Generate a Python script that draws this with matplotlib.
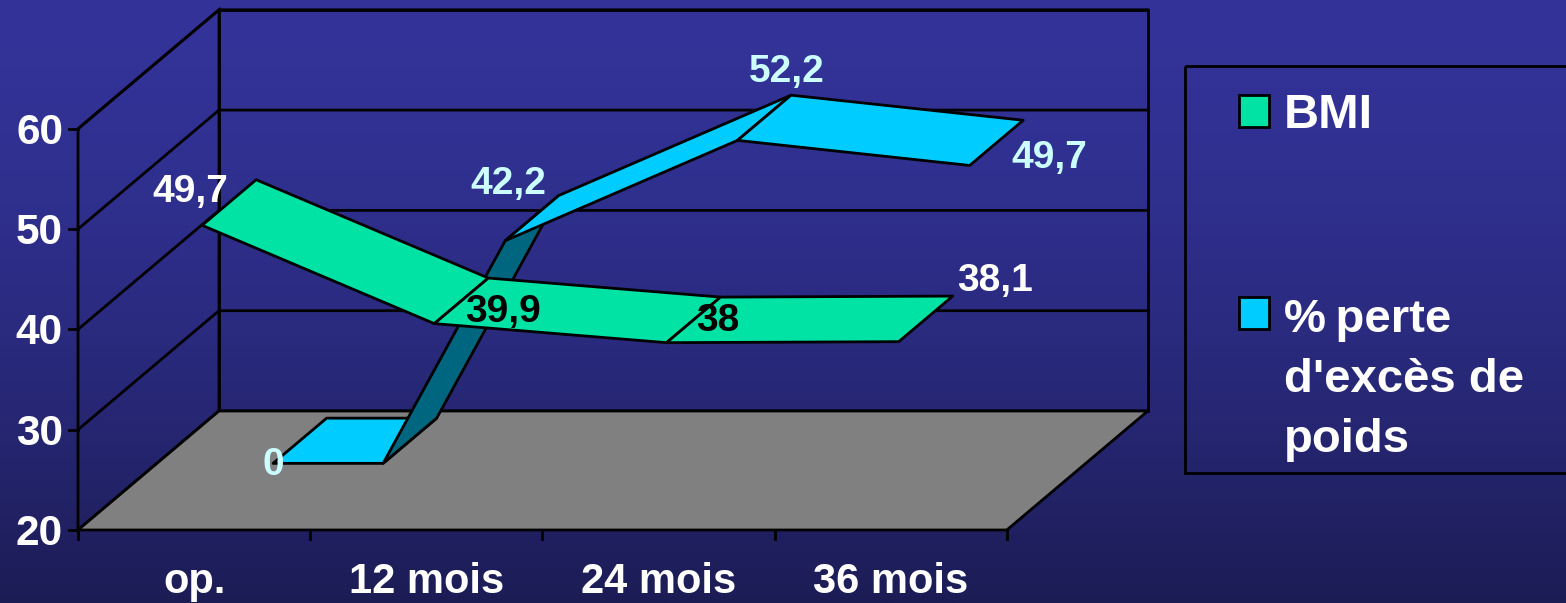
"""Oblique ribbon chart: BMI and excess weight loss after surgery."""

import matplotlib.pyplot as plt
import numpy as np
from matplotlib.patches import Polygon, Rectangle

categories = ["op.", "12 mois", "24 mois", "36 mois"]
bmi_values = [49.7, 39.9, 38.0, 38.1]
bmi_labels = ["49,7", "39,9", "38", "38,1"]
loss_values = [0.0, 42.2, 52.2, 49.7]
loss_labels = ["0", "42,2", "52,2", "49,7"]
y_ticks = [20, 30, 40, 50, 60]

Y_MIN, Y_MAX = 20, 60
X0, Y0 = 78, 530  # front left corner of the floor, in pixels
CAT_W = 232.2
Y_SCALE = 10.03
DEPTH_X, DEPTH_Y = 141, -119

GREEN = "#00e3a5"
BLUE = "#00ccff"
DARK_BLUE = "#006680"
GREY = "#808080"
PALE = "#ccffff"
LW = 2.0


def project(cat, value, depth):
    x = X0 + CAT_W * (cat + 0.5) + DEPTH_X * depth
    y = Y0 - Y_SCALE * (value - Y_MIN) + DEPTH_Y * depth
    return x, y


def corner(cat_edge, value, depth):
    return project(cat_edge - 0.5, value, depth)


def clipped_segment(i, v0, v1):
    """Clip one segment to the axis range, as the floor cuts the ribbon."""
    pieces = []
    if v0 < Y_MIN <= v1:
        t = (Y_MIN - v0) / (v1 - v0)
        pieces.append((i, Y_MIN, i + t, Y_MIN))
        pieces.append((i + t, Y_MIN, i + 1, v1))
    else:
        pieces.append((i, v0, i + 1, v1))
    return pieces


def draw_ribbon(ax, values, d_front, d_back, color, dark):
    for i in range(len(values) - 1):
        for c0, v0, c1, v1 in clipped_segment(i, values[i], values[i + 1]):
            p0 = project(c0, v0, d_front)
            p1 = project(c1, v1, d_front)
            p2 = project(c1, v1, d_back)
            p3 = project(c0, v0, d_back)
            cross = (p1[0] - p0[0]) * (p3[1] - p0[1]) - (p1[1] - p0[1]) * (p3[0] - p0[0])
            face = dark if cross > 0 else color
            ax.add_patch(
                Polygon([p0, p1, p2, p3], closed=True, facecolor=face, edgecolor="black",
                        linewidth=LW, joinstyle="round", zorder=4)
            )


fig = plt.figure(figsize=(15.66, 6.03), dpi=100)
ax = fig.add_axes([0, 0, 1, 1])
ax.set_xlim(0, 1566)
ax.set_ylim(603, 0)
ax.axis("off")
plt.rcParams["font.family"] = ["Liberation Sans", "DejaVu Sans"]

# background gradient
top = np.array([0x33, 0x33, 0x99]) / 255
bottom = np.array([0x1c, 0x1c, 0x55]) / 255
t = np.linspace(0, 1, 256)[:, None, None] ** 1.6
ax.imshow(top + (bottom - top) * t, extent=(0, 1566, 603, 0), aspect="auto", zorder=0)

n = len(categories)
fl = corner(0, Y_MIN, 0)
fr = corner(n, Y_MIN, 0)
bl = corner(0, Y_MIN, 1)
br = corner(n, Y_MIN, 1)
tl_f = corner(0, Y_MAX, 0)
tl_b = corner(0, Y_MAX, 1)
tr_b = corner(n, Y_MAX, 1)

# back wall, side wall, floor
ax.add_patch(Polygon([bl, br, tr_b, tl_b], closed=True, fill=False, edgecolor="black", linewidth=LW, zorder=1))
ax.add_patch(Polygon([fl, bl, tl_b, tl_f], closed=True, fill=False, edgecolor="black", linewidth=LW, zorder=1))

for v in y_ticks:
    a = corner(0, v, 0)
    b = corner(0, v, 1)
    c = corner(n, v, 1)
    ax.plot([a[0], b[0], c[0]], [a[1], b[1], c[1]], color="black", lw=LW, solid_joinstyle="miter", zorder=1)
    ax.plot([a[0] - 9, a[0]], [a[1], a[1]], color="black", lw=LW, zorder=1)
    ax.text(a[0] - 15, a[1] + 4, str(v), ha="right", va="center",
            color="white", fontsize=30.5, fontweight="bold", zorder=6)

ax.add_patch(Polygon([fl, fr, br, bl], closed=True, facecolor=GREY, edgecolor="black", linewidth=LW, zorder=2))

for i in range(n + 1):
    a = corner(i, Y_MIN, 0)
    ax.plot([a[0], a[0]], [a[1], a[1] + 9], color="black", lw=LW, zorder=1)

for i, name in enumerate(categories):
    x, _ = project(i, Y_MIN, 0)
    ax.text(x, 582, name, ha="center", va="center", color="white", fontsize=30, fontweight="bold", zorder=6)

draw_ribbon(ax, loss_values, 0.56, 0.94, BLUE, DARK_BLUE)
draw_ribbon(ax, bmi_values, 0.057, 0.44, GREEN, GREEN)

# data labels, placed relative to the ribbon points
bmi_offsets = [(-12, -33), (69, -12), (51, -22), (96, -61)]
bmi_colors = ["white", "black", "black", "white"]
for i, (v, txt) in enumerate(zip(bmi_values, bmi_labels)):
    x, y = project(i, v, 0.057)
    dx, dy = bmi_offsets[i]
    ax.text(x + dx, y + dy, txt, ha="center", va="center", color=bmi_colors[i],
            fontsize=28, fontweight="bold", zorder=6)

loss_offsets = [(0, 2), (3, -57), (49, -68), (80, -7)]
for i, (v, txt) in enumerate(zip(loss_values, loss_labels)):
    x, y = project(i, max(v, Y_MIN), 0.56)
    dx, dy = loss_offsets[i]
    ax.text(x + dx, y + dy, txt, ha="center", va="center", color=PALE,
            fontsize=28, fontweight="bold", zorder=6)

# legend box runs off the right edge
ax.add_patch(Rectangle((1185, 66), 420, 407, fill=False, edgecolor="black", linewidth=LW, clip_on=True))
ax.add_patch(Rectangle((1239, 95), 30, 32, facecolor=GREEN, edgecolor="black", linewidth=LW))
ax.add_patch(Rectangle((1239, 297), 30, 32, facecolor=BLUE, edgecolor="black", linewidth=LW))
ax.text(1284, 115, "BMI", ha="left", va="center", color="white", fontsize=35, fontweight="bold")
ax.text(1284, 320, "%\u2009perte", ha="left", va="center", color="white", fontsize=34, fontweight="bold")
ax.text(1284, 380, "d'excès de", ha="left", va="center", color="white", fontsize=34, fontweight="bold")
ax.text(1284, 440, "poids", ha="left", va="center", color="white", fontsize=34, fontweight="bold")

fig.savefig("out.png", dpi=100)
plt.close(fig)
